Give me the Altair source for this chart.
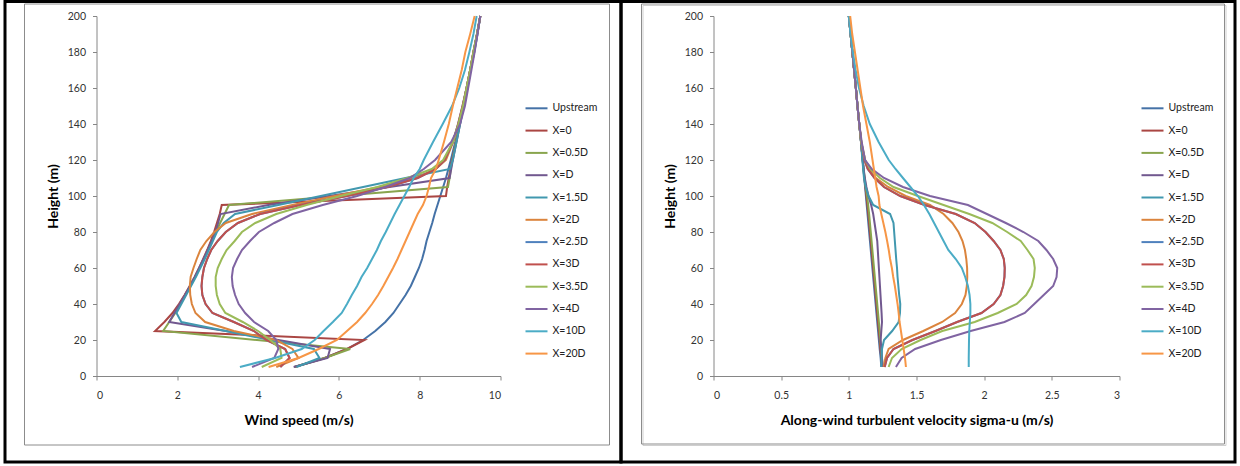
import altair as alt
import pandas as pd

# Heights (m)
H = [5, 10, 15, 20, 25, 30, 35, 40, 45, 50, 55, 60, 65, 70, 75, 80, 85, 90, 95, 100,
     105, 110, 115, 120, 130, 140, 150, 160, 170, 180, 190, 200]

series = ["Upstream", "X=0", "X=0.5D", "X=D", "X=1.5D", "X=2D", "X=2.5D", "X=3D",
          "X=3.5D", "X=4D", "X=10D", "X=20D"]
colors = ["#4572A7", "#AA4643", "#89A54E", "#71588F", "#4198AF", "#DB843D",
          "#4F81BD", "#C0504D", "#9BBB59", "#8064A2", "#4BACC6", "#F79646"]

# ---- Wind speed (m/s) ----
ws_upstream = [4.9, 5.65, 6.2, 6.6, 6.9, 7.15, 7.35, 7.5, 7.65, 7.78, 7.88, 7.98, 8.06, 8.12, 8.17, 8.24, 8.31, 8.37, 8.44, 8.51,
               8.58, 8.65, 8.71, 8.77, 8.88, 8.98, 9.07, 9.16, 9.25, 9.33, 9.42, 9.5]
ws_x0 = [4.9, 5.65, 6.2, 6.63, 1.45, 1.68, 1.88, 2.04, 2.18, 2.31, 2.43, 2.54, 2.64, 2.74, 2.83, 2.91, 2.98, 3.05, 3.1, 8.65,
         8.68, 8.72, 8.76, 8.8, 8.9, 8.99, 9.08, 9.17, 9.25, 9.34, 9.42, 9.5]
ws_x05 = [4.9, 5.65, 6.28, 3.97, 1.65, 1.8, 1.95, 2.08, 2.2, 2.32, 2.44, 2.55, 2.66, 2.76, 2.86, 2.96, 3.06, 3.17, 3.28, 6.0,
          8.7, 8.74, 8.77, 8.81, 8.9, 8.99, 9.08, 9.17, 9.25, 9.34, 9.42, 9.5]
ws_x1 = [4.88, 5.72, 5.78, 4.5, 3.2, 1.8, 1.93, 2.06, 2.19, 2.31, 2.43, 2.54, 2.65, 2.75, 2.85, 2.94, 3.01, 3.07, 4.25, 5.75,
         7.25, 8.74, 8.78, 8.82, 8.91, 9.0, 9.09, 9.18, 9.26, 9.35, 9.43, 9.5]
ws_x15 = [4.95, 5.52, 5.38, 4.3, 3.2, 2.1, 1.98, 2.1, 2.22, 2.34, 2.46, 2.57, 2.68, 2.78, 2.88, 2.98, 3.15, 3.43, 4.5, 5.55,
          6.6, 7.65, 8.75, 8.82, 8.91, 9.0, 9.09, 9.18, 9.26, 9.35, 9.43, 9.5]
ws_x2 = [4.45, 5.0, 4.85, 4.45, 3.4, 2.69, 2.45, 2.36, 2.32, 2.31, 2.33, 2.4, 2.48, 2.57, 2.72, 2.92, 3.2, 3.85, 4.85, 5.9,
         7.0, 7.9, 8.4, 8.65, 8.83, 8.96, 9.07, 9.16, 9.25, 9.33, 9.42, 9.5]
ws_x25 = [4.55, 4.78, 4.67, 4.2, 3.9, 3.4, 2.87, 2.7, 2.62, 2.6, 2.62, 2.66, 2.74, 2.84, 3.0, 3.2, 3.5, 4.05, 5.05, 6.2,
          7.2, 7.95, 8.4, 8.62, 8.82, 8.95, 9.06, 9.16, 9.25, 9.33, 9.42, 9.5]
ws_x3 = [4.55, 4.78, 4.67, 4.2, 3.9, 3.4, 2.87, 2.7, 2.62, 2.6, 2.62, 2.66, 2.74, 2.84, 3.0, 3.2, 3.5, 4.05, 5.05, 6.2,
         7.2, 7.95, 8.4, 8.62, 8.82, 8.95, 9.06, 9.16, 9.25, 9.33, 9.42, 9.5]
ws_x35 = [4.09, 4.58, 4.55, 4.3, 4.0, 3.62, 3.19, 3.05, 2.98, 2.95, 2.95, 3.0, 3.1, 3.22, 3.42, 3.6, 3.93, 4.45, 5.2, 6.05,
          6.95, 7.7, 8.3, 8.58, 8.82, 8.96, 9.07, 9.16, 9.25, 9.33, 9.42, 9.5]
ws_x4 = [3.85, 4.4, 4.5, 4.45, 4.25, 3.9, 3.68, 3.52, 3.43, 3.37, 3.35, 3.38, 3.48, 3.6, 3.8, 4.02, 4.4, 4.85, 5.6, 6.45,
         7.15, 7.75, 8.1, 8.38, 8.78, 9.0, 9.12, 9.2, 9.28, 9.36, 9.43, 9.5]
ws_x10 = [3.55, 4.42, 5.08, 5.4, 5.62, 5.85, 6.07, 6.2, 6.32, 6.45, 6.56, 6.7, 6.82, 6.94, 7.04, 7.16, 7.27, 7.38, 7.5, 7.62,
          7.74, 7.85, 8.0, 8.1, 8.33, 8.57, 8.8, 8.98, 9.12, 9.23, 9.33, 9.41]
ws_x20 = [4.26, 5.0, 5.5, 5.95, 6.2, 6.45, 6.65, 6.82, 6.97, 7.1, 7.22, 7.34, 7.45, 7.55, 7.65, 7.75, 7.85, 7.95, 8.08, 8.17,
          8.23, 8.28, 8.4, 8.47, 8.6, 8.72, 8.82, 8.93, 9.04, 9.13, 9.25, 9.36]

# ---- Along-wind turbulent velocity sigma-u (m/s) ----
su_upstream = [1.24, 1.235, 1.228, 1.222, 1.216, 1.21, 1.204, 1.198, 1.192, 1.186, 1.18, 1.174, 1.168, 1.162, 1.156, 1.15, 1.144, 1.138, 1.132, 1.126,
               1.12, 1.114, 1.108, 1.102, 1.09, 1.077, 1.064, 1.052, 1.039, 1.026, 1.013, 1.0]
su_x0 = [1.245, 1.24, 1.233, 1.228, 1.222, 1.216, 1.21, 1.204, 1.198, 1.192, 1.186, 1.18, 1.174, 1.168, 1.162, 1.156, 1.15, 1.144, 1.137, 1.13,
         1.122, 1.115, 1.108, 1.102, 1.09, 1.077, 1.064, 1.052, 1.039, 1.026, 1.013, 1.0]
su_x05 = [1.25, 1.245, 1.238, 1.233, 1.228, 1.222, 1.216, 1.21, 1.204, 1.198, 1.192, 1.186, 1.18, 1.174, 1.168, 1.162, 1.156, 1.15, 1.143, 1.135,
          1.125, 1.117, 1.109, 1.103, 1.09, 1.077, 1.064, 1.052, 1.039, 1.026, 1.013, 1.0]
su_x1 = [1.25, 1.245, 1.24, 1.235, 1.24, 1.245, 1.242, 1.238, 1.234, 1.23, 1.226, 1.222, 1.218, 1.214, 1.21, 1.2, 1.19, 1.18, 1.165, 1.145,
         1.13, 1.118, 1.11, 1.103, 1.09, 1.077, 1.064, 1.052, 1.039, 1.026, 1.013, 1.0]
su_x15 = [1.24, 1.242, 1.245, 1.26, 1.32, 1.368, 1.378, 1.38, 1.372, 1.366, 1.36, 1.356, 1.35, 1.345, 1.34, 1.335, 1.33, 1.305, 1.18, 1.146,
          1.125, 1.112, 1.106, 1.1, 1.09, 1.077, 1.064, 1.052, 1.039, 1.026, 1.013, 1.0]
su_x2 = [1.257, 1.27, 1.294, 1.4, 1.55, 1.69, 1.785, 1.835, 1.862, 1.872, 1.875, 1.874, 1.868, 1.858, 1.84, 1.81, 1.765, 1.7, 1.6, 1.42,
         1.29, 1.2, 1.15, 1.12, 1.092, 1.077, 1.064, 1.052, 1.039, 1.026, 1.013, 1.0]
su_x25 = [1.265, 1.282, 1.33, 1.47, 1.64, 1.8, 1.98, 2.07, 2.12, 2.14, 2.15, 2.152, 2.145, 2.12, 2.07, 2.01, 1.93, 1.79, 1.56, 1.38,
          1.26, 1.19, 1.14, 1.115, 1.092, 1.077, 1.064, 1.052, 1.039, 1.026, 1.013, 1.0]
su_x3 = [1.265, 1.282, 1.33, 1.47, 1.64, 1.8, 1.98, 2.07, 2.12, 2.14, 2.15, 2.152, 2.145, 2.12, 2.07, 2.01, 1.93, 1.79, 1.56, 1.38,
         1.26, 1.19, 1.14, 1.115, 1.092, 1.077, 1.064, 1.052, 1.039, 1.026, 1.013, 1.0]
su_x35 = [1.294, 1.319, 1.39, 1.53, 1.69, 1.93, 2.1, 2.24, 2.31, 2.35, 2.368, 2.374, 2.365, 2.32, 2.27, 2.17, 2.06, 1.89, 1.7, 1.51,
          1.33, 1.23, 1.16, 1.12, 1.092, 1.077, 1.064, 1.052, 1.039, 1.026, 1.013, 1.0]
su_x4 = [1.348, 1.39, 1.49, 1.68, 1.9, 2.15, 2.3, 2.37, 2.44, 2.51, 2.535, 2.54, 2.51, 2.46, 2.4, 2.29, 2.16, 2.02, 1.88, 1.6,
         1.4, 1.26, 1.17, 1.12, 1.095, 1.077, 1.064, 1.052, 1.039, 1.026, 1.013, 1.0]
su_x10 = [1.886, 1.886, 1.887, 1.888, 1.89, 1.894, 1.898, 1.898, 1.892, 1.88, 1.86, 1.835, 1.79, 1.735, 1.7, 1.665, 1.63, 1.595, 1.555, 1.51,
          1.455, 1.4, 1.345, 1.295, 1.22, 1.155, 1.11, 1.075, 1.05, 1.03, 1.012, 1.0]
su_x20 = [1.422, 1.415, 1.405, 1.395, 1.385, 1.375, 1.368, 1.36, 1.35, 1.34, 1.328, 1.318, 1.305, 1.295, 1.283, 1.27, 1.255, 1.24, 1.226, 1.22,
          1.205, 1.195, 1.185, 1.175, 1.155, 1.13, 1.105, 1.085, 1.065, 1.045, 1.025, 1.01]

wind = dict(zip(series, [ws_upstream, ws_x0, ws_x05, ws_x1, ws_x15, ws_x2, ws_x25, ws_x3,
                         ws_x35, ws_x4, ws_x10, ws_x20]))
sigma = dict(zip(series, [su_upstream, su_x0, su_x05, su_x1, su_x15, su_x2, su_x25, su_x3,
                          su_x35, su_x4, su_x10, su_x20]))


def long_df(d):
    rows = []
    for s in series:
        for h, v in zip(H, d[s]):
            rows.append({"series": s, "h": h, "v": v})
    return pd.DataFrame(rows)


FONT = "Lato"
AX = "#868686"
PLOT_H = 360


def frame_rect(x1, x2, y1, y2, color, sw):
    one = pd.DataFrame({"k": [0]})
    return alt.Chart(one).mark_rect(fillOpacity=0, stroke=color, strokeWidth=sw).encode(
        x=alt.value(x1), x2=alt.value(x2), y=alt.value(y1), y2=alt.value(y2))


def panel(df, width, xdomain, xvalues, xtitle, legend_x, box, border, shadow=False):
    lines = alt.Chart(df).mark_line(strokeWidth=2).encode(
        x=alt.X("v:Q",
                scale=alt.Scale(domain=xdomain, nice=False, zero=False),
                axis=alt.Axis(values=xvalues, format=".1~f", title=xtitle,
                              titleX=width / 2, titleY=44, titleBaseline="middle",
                              labelPadding=10)),
        y=alt.Y("h:Q",
                scale=alt.Scale(domain=[0, 200], nice=False),
                axis=alt.Axis(values=list(range(0, 201, 20)), title="Height (m)",
                              titleX=-43, titleY=PLOT_H / 2, titleBaseline="middle",
                              titleAlign="center", labelPadding=7)),
        color=alt.Color("series:N", sort=series,
                        scale=alt.Scale(domain=series, range=colors),
                        legend=alt.Legend(orient="none", legendX=legend_x, legendY=85.8,
                                          title=None, symbolType="M-2,0H2", symbolSize=121,
                                          symbolStrokeWidth=2, labelFont=FONT,
                                          labelFontSize=10.5, labelColor="#222222",
                                          labelOffset=9.5, rowPadding=10.3, padding=0)),
        order=alt.Order("h:Q"),
    )
    layers = []
    if shadow:
        layers.append(frame_rect(box[0] + 1.5, box[1] + 1.5, box[2] + 1.5, box[3] + 1.5, "#CFCFCF", 1))
    layers.append(frame_rect(box[0], box[1], box[2], box[3], "#8C8C8C", 1))
    layers.append(frame_rect(border[0], border[1], border[2], border[3], "#000000", 3))
    layers.append(lines)
    return alt.layer(*layers).properties(width=width, height=PLOT_H)


left = panel(long_df(wind), 404, [0, 10], [0, 2, 4, 6, 8, 10], "Wind speed (m/s)",
             433.5, (-72, 513, -12, 429), (-91.5, 524.5, -14.5, 446))
right = panel(long_df(sigma), 406, [0, 3], [0, 0.5, 1, 1.5, 2, 2.5, 3],
              "Along-wind turbulent velocity sigma-u (m/s)",
              432.5, (-72, 511, -12, 428), (-92.5, 521.5, -14.5, 446), shadow=True)

chart = alt.hconcat(left, right, spacing=213, bounds="flush").resolve_scale(
    color="independent").resolve_legend(color="independent").properties(
    padding={"left": 3.5, "top": 0, "right": 0.5, "bottom": 0},
    background="white",
).configure_view(strokeWidth=0).configure_axis(
    grid=False, domainColor=AX, tickColor=AX, tickSize=4, domainWidth=1,
    labelFont=FONT, labelFontSize=10.5, labelColor="#333333",
    titleFont=FONT, titleFontSize=14, titleFontWeight="bold", titleColor="#000000",
)

chart.save("out.html", embed_options={"renderer": "svg", "actions": False})
